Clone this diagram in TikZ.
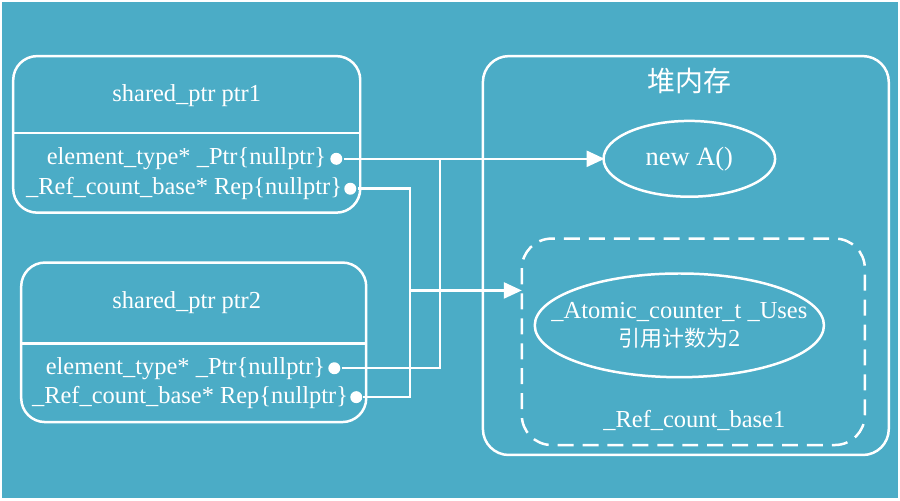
\documentclass[tikz,border=0pt]{standalone}
\usepackage{fontspec}
\setmainfont{Liberation Serif}
\newfontfamily\cjk{Noto Sans CJK SC}
\usetikzlibrary{arrows.meta,positioning}
\definecolor{bgteal}{HTML}{4BACC6}

\begin{document}
\begin{tikzpicture}[
        x=1pt, y=-1pt,
        every path/.style={draw=white, line width=2.5pt},
        every node/.style={text=white, font=\fontsize{24.5}{29}\selectfont, align=center},
        ptrbox/.style={rounded corners=24pt},
        dot/.style={circle, fill=white, inner sep=0pt, minimum size=12pt},
        link/.style={-{Triangle[length=18pt,width=16pt]}}
    ]
    \fill[bgteal, draw=none] (0,0) rectangle (900,499);
    \useasboundingbox (0,0) rectangle (900,499);

    % shared_ptr boxes
    \draw[ptrbox] (12,55) rectangle (360,212);
    \draw (12,132) -- (360,132);
    \node (p1) at (186,95) {shared\_ptr ptr1};
    \node[anchor=east, inner sep=1pt] (p1ptr) at (328,158) {element\_type* \_Ptr\{nullptr\}};
    \node[anchor=east, inner sep=1pt] (p1rep) at (344,188) {\_Ref\_count\_base* Rep\{nullptr\}};

    \draw[ptrbox] (20,262) rectangle (366,422);
    \draw (20,343) -- (366,343);
    \node (p2) at (186,302) {shared\_ptr ptr2};
    \node[anchor=east, inner sep=1pt] (p2ptr) at (327,368) {element\_type* \_Ptr\{nullptr\}};
    \node[anchor=east, inner sep=1pt] (p2rep) at (350,397) {\_Ref\_count\_base* Rep\{nullptr\}};

    \node[dot] (d1) at (336,158) {};
    \node[dot] (d2) at (350,188) {};
    \node[dot] (d3) at (334,368) {};
    \node[dot] (d4) at (356,397) {};

    % heap
    \draw[rounded corners=26pt] (483,55) rectangle (890,455);
    \node[font=\cjk\fontsize{28}{32}\selectfont] (heap) at (690,80) {堆内存};
    \draw (690,158) ellipse [x radius=86, y radius=38];
    \node (newa) at (690,158) {\fontsize{26.5}{30}\selectfont new A()};
    \draw[dashed, dash pattern=on 16pt off 9pt, rounded corners=30pt] (522,238) rectangle (866,445);
    \draw (680,325) ellipse [x radius=145, y radius=52];
    \node (uses) at (680,325) {\_Atomic\_counter\_t \_Uses\\{\cjk\fontsize{22}{27}\selectfont 引用计数为}2};
    \node (rcb) at (695,420) {\_Ref\_count\_base1};
    \coordinate (toA) at (605,158);
    \coordinate (toRC) at (522,290);

    % connectors
    \draw[link] (d1) -- (toA);
    \draw (d3) -| (440,158);
    \draw (d2) -| (410,397) -- (d4);
    \draw[link] (410,290) -- (toRC);
\end{tikzpicture}
\end{document}
